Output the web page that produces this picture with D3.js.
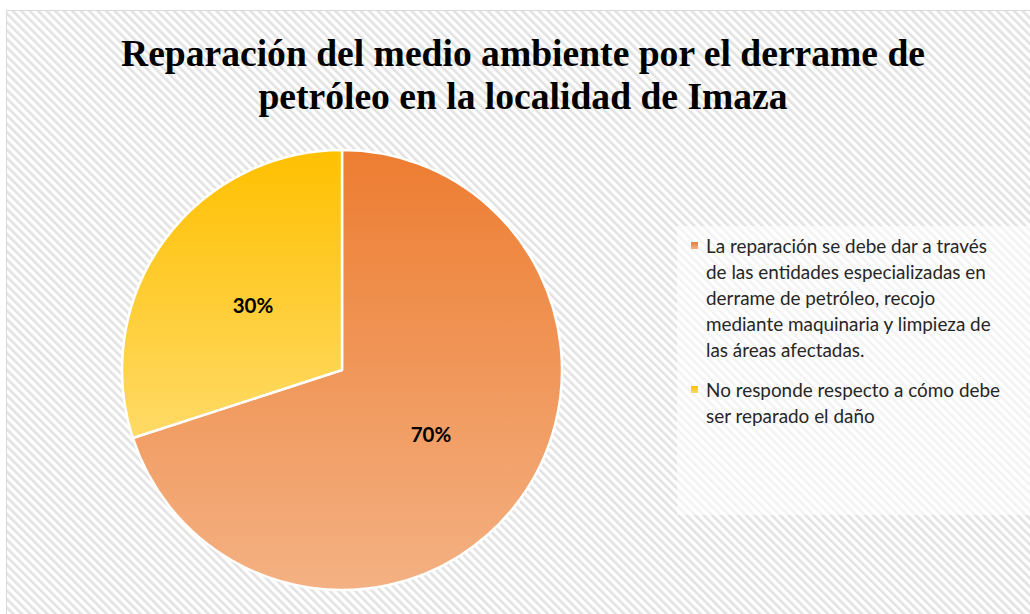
<!DOCTYPE html>
<html>
<head>
<meta charset="utf-8">
<script src="https://cdn.jsdelivr.net/npm/d3@7"></script>
<style>
  body { margin: 0; background: #fff; }
  svg { display: block; }
</style>
</head>
<body>
<svg id="chart" width="1030" height="614"></svg>
<script>
// data
var categories = [
  "La reparación se debe dar a través de las entidades especializadas en derrame de petróleo, recojo mediante maquinaria y limpieza de las áreas afectadas.",
  "No responde respecto a cómo debe ser reparado el daño"
];
var values = [70, 30];
var labels = ["70%", "30%"];
var legendLines = [
  ["La reparación se debe dar a través", "de las entidades especializadas en", "derrame de petróleo, recojo", "mediante maquinaria y limpieza de", "las áreas afectadas."],
  ["No responde respecto a cómo debe", "ser reparado el daño"]
];
var titleLines = ["Reparación del medio ambiente por el derrame de", "petróleo en la localidad de Imaza"];
var colorsTop = ["#ED7D31", "#FFC000"];
var colorsBottom = ["#F4B183", "#FFDA66"];

var svg = d3.select("#chart");
var defs = svg.append("defs");

// striped background pattern (downward diagonal)
var pat = defs.append("pattern")
  .attr("id", "stripes")
  .attr("width", 6).attr("height", 6)
  .attr("patternUnits", "userSpaceOnUse")
  .attr("patternTransform", "rotate(-45)");
pat.append("rect").attr("width", 6).attr("height", 6).attr("fill", "#ffffff");
pat.append("rect").attr("width", 2.6).attr("height", 6).attr("fill", "#e2e2e2");

// gradients for slices
categories.forEach(function(c, i) {
  var g = defs.append("linearGradient")
    .attr("id", "grad" + i)
    .attr("x1", 0).attr("y1", 0).attr("x2", 0).attr("y2", 1);
  g.append("stop").attr("offset", "0%").attr("stop-color", colorsTop[i]);
  g.append("stop").attr("offset", "100%").attr("stop-color", colorsBottom[i]);
});

svg.append("rect")
  .attr("x", 6.5).attr("y", 10.5)
  .attr("width", 1040).attr("height", 620)
  .attr("fill", "url(#stripes)")
  .attr("stroke", "#d9d9d9")
  .attr("stroke-width", 1);

// title
svg.append("g").selectAll("text")
  .data(titleLines)
  .enter()
  .append("text")
  .attr("x", 523)
  .attr("y", function(d, i) { return 66 + i * 43; })
  .attr("text-anchor", "middle")
  .attr("font-family", "Liberation Serif, Times New Roman, serif")
  .attr("font-weight", "bold")
  .attr("font-size", 37.6)
  .attr("fill", "#000")
  .text(function(d) { return d; });

// pie
var cx = 342, cy = 370, radius = 220;
var pie = d3.pie().sort(null).value(function(d) { return d; });
var arc = d3.arc().innerRadius(0).outerRadius(radius);
var arcs = pie(values);

var pg = svg.append("g").attr("transform", "translate(" + cx + "," + cy + ")");

pg.selectAll("path")
  .data(arcs)
  .enter()
  .append("path")
  .attr("d", arc)
  .attr("fill", function(d, i) { return "url(#grad" + i + ")"; })
  .attr("stroke", "#fff")
  .attr("stroke-width", 2.5)
  .attr("stroke-linejoin", "round");

pg.selectAll("text")
  .data(arcs)
  .enter()
  .append("text")
  .attr("transform", function(d) { return "translate(" + arc.centroid(d) + ")"; })
  .attr("text-anchor", "middle")
  .attr("dy", "0.35em")
  .attr("font-family", "Lato, Carlito, Calibri, sans-serif")
  .attr("font-weight", "bold")
  .attr("font-size", 20.5)
  .attr("fill", "#000")
  .text(function(d, i) { return labels[i]; });

// legend
svg.append("rect")
  .attr("x", 677).attr("y", 226)
  .attr("width", 360).attr("height", 289)
  .attr("fill", "#fff")
  .attr("fill-opacity", 0.6);

var lg = svg.append("g");
var y0 = [253, 397];
legendLines.forEach(function(lines, i) {
  lg.append("rect")
    .attr("x", 691).attr("y", y0[i] - 11)
    .attr("width", 7).attr("height", 7)
    .attr("fill", "url(#grad" + i + ")");
  lg.selectAll("text.l" + i)
    .data(lines)
    .enter()
    .append("text")
    .attr("class", "l" + i)
    .attr("x", 706)
    .attr("y", function(d, j) { return y0[i] + j * 26; })
    .attr("font-family", "Lato, Carlito, Calibri, sans-serif")
    .attr("font-size", 18.9)
    .attr("fill", "#262626")
    .text(function(d) { return d; });
});
</script>
</body>
</html>
